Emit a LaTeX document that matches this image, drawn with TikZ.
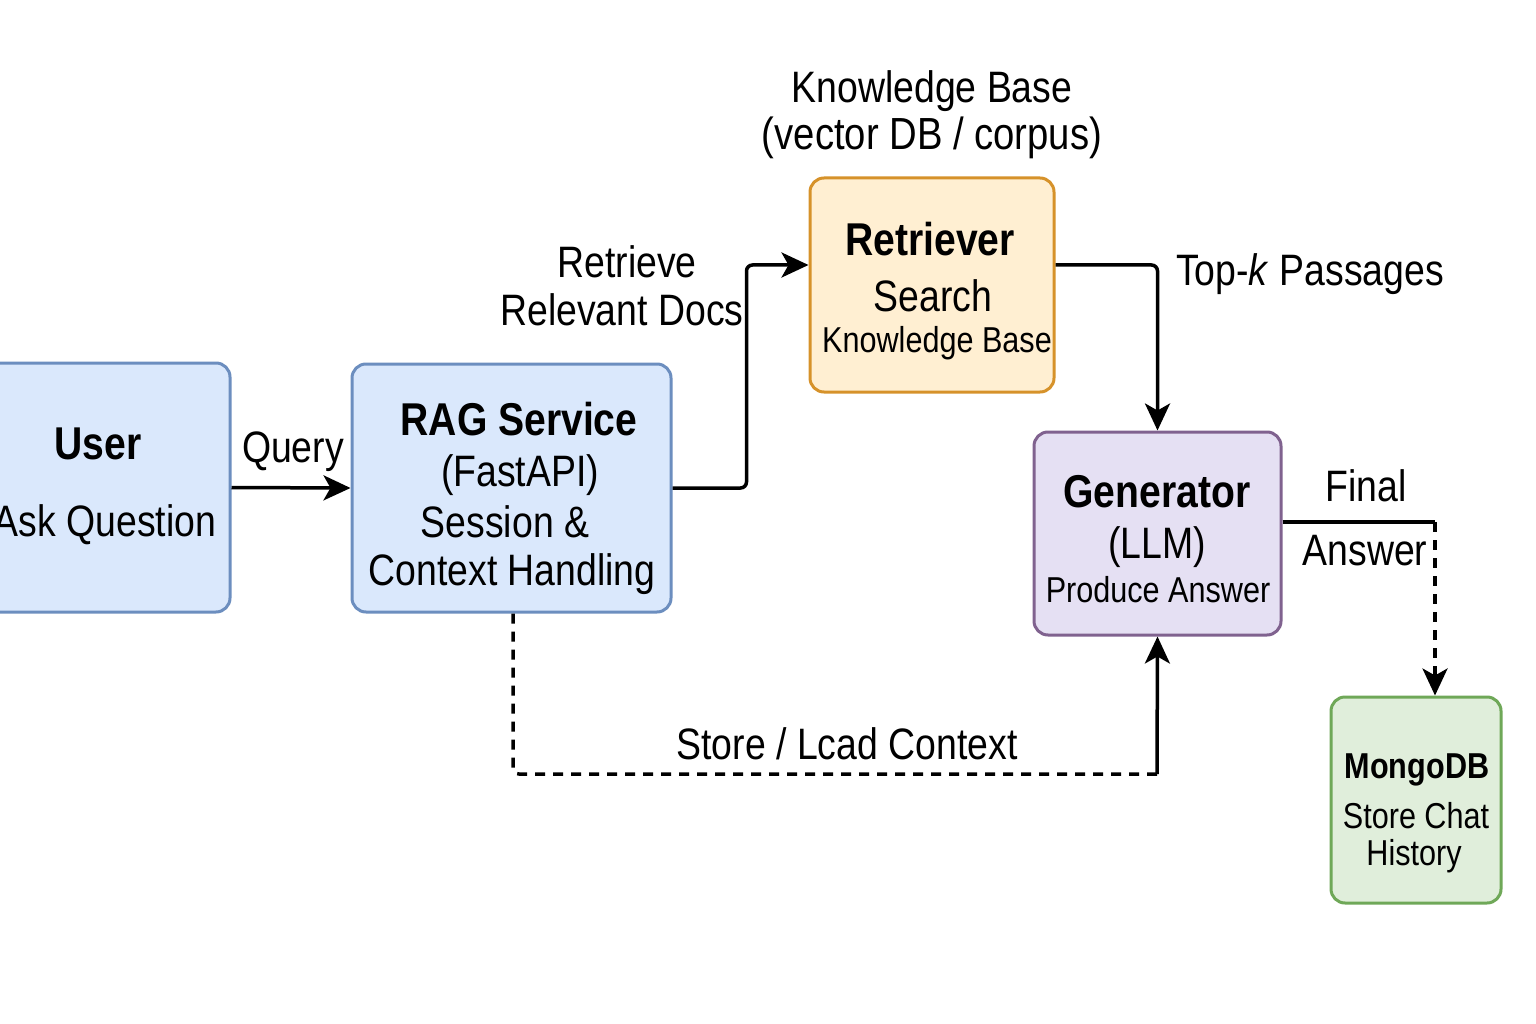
\documentclass[tikz,border=0pt]{standalone}
\usepackage{fontspec}
\setmainfont{Liberation Sans}[FakeStretch=0.85]
\usetikzlibrary{arrows.meta}
\definecolor{userfill}{HTML}{DAE8FC}\definecolor{userline}{HTML}{6C8EBF}
\definecolor{retfill}{HTML}{FFEFD2}\definecolor{retline}{HTML}{D6922A}
\definecolor{genfill}{HTML}{E5E0F3}\definecolor{genline}{HTML}{80628F}
\definecolor{dbfill}{HTML}{E0EEDB}\definecolor{dbline}{HTML}{6FA858}
\begin{document}
\begin{tikzpicture}[x=1pt,y=-1pt,
	box/.style={draw,line width=3pt,rounded corners=14pt,inner sep=0pt},
	txt/.style={anchor=base,inner sep=0pt,font=\fontsize{44}{50}\selectfont},
	ttl/.style={txt,font=\fontsize{46}{52}\selectfont\bfseries},
	sml/.style={txt,font=\fontsize{36}{42}\selectfont},
	line/.style={line width=3.5pt,rounded corners=6pt},
	tip/.style={-{Stealth[length=27pt,width=25pt,inset=7pt]}},
	arr/.style={line,tip},
	dashline/.style={line,dash pattern=on 10pt off 8pt}]
	\useasboundingbox (0,0) rectangle (1536,1024);
	% boxes
	\node[box,fill=userfill,draw=userline,minimum width=250pt,minimum height=249pt] (user) at (105,487.5) {};
	\node[box,fill=userfill,draw=userline,minimum width=319pt,minimum height=248pt] (rag) at (511.5,488) {};
	\node[box,fill=retfill,draw=retline,minimum width=244pt,minimum height=214pt] (retriever) at (932,285) {};
	\node[box,fill=genfill,draw=genline,minimum width=247pt,minimum height=203pt] (generator) at (1157.5,533.5) {};
	\node[box,fill=dbfill,draw=dbline,minimum width=170pt,minimum height=206pt] (mongo) at (1416,800) {};
	% box texts
	\node[ttl] (usertitle) at (98,459) {User};
	\node[txt] (usertask) at (105,536) {Ask Question};
	\node[ttl] (ragtitle) at (519,435) {RAG Service};
	\node[txt] (ragapi) at (520,486) {(FastAPI)};
	\node[txt] (ragsession) at (505,537) {Session \&};
	\node[txt] (ragcontext) at (512,585) {Context Handling};
	\node[ttl] (rettitle) at (930,256) {Retriever};
	\node[txt] (retsearch) at (933,311) {Search};
	\node[sml] (retkb) at (937,352) {Knowledge Base};
	\node[ttl] (gentitle) at (1157,507) {Generator};
	\node[txt] (genllm) at (1157,558) {(LLM)};
	\node[sml] (genanswer) at (1158,602) {Produce Answer};
	\node[sml,font=\fontsize{36}{42}\selectfont\bfseries] (dbtitle) at (1417,778) {MongoDB};
	\node[sml] (dbstore) at (1416,828) {Store Chat};
	\node[sml] (dbhistory) at (1414,865) {History};
	% free labels
	\node[txt] (kbname) at (932,103) {Knowledge Base};
	\node[txt,font=\fontsize{45}{50}\selectfont] (kbkind) at (932,150) {(vector DB / corpus)};
	\node[txt] (querylbl) at (293,462) {Query};
	\node[txt] (retrlbl) at (627,278) {Retrieve};
	\node[txt] (docslbl) at (622,325) {Relevant Docs};
	\node[txt] (topklbl) at (1310,286) {Top-\textit{k} Passages};
	\node[txt] (finallbl) at (1366,501) {Final};
	\node[txt] (answerlbl) at (1365,565) {Answer};
	\node[txt] (ctxlbl) at (847,759) {Store / Lcad Context};
	% connectors
	\coordinate (ansbend) at (1435,522);
	\coordinate (ctxbend) at (1157,774);
	\draw[arr] (user.east) -- (rag.west);
	\draw[arr] (rag.east) -- ++(74,0) |- ([yshift=20pt]retriever.west);
	\draw[arr] ([yshift=20pt]retriever.east) -| (generator.north);
	\draw[line] ([yshift=11.5pt]generator.east) -- (ansbend);
	\draw[dashline,tip] (ansbend) -- (ansbend |- mongo.north);
	\draw[dashline] ([xshift=1.5pt]rag.south) |- (ctxbend);
	\draw[arr] (ctxbend) -- (generator.south);
\end{tikzpicture}
\end{document}
